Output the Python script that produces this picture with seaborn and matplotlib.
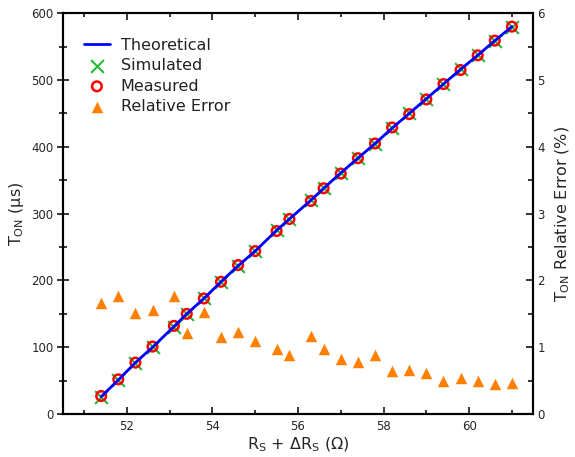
import matplotlib
matplotlib.use("Agg")
import matplotlib.pyplot as plt
import seaborn as sns
import pandas as pd
from matplotlib.ticker import MultipleLocator

# ---- data ----
resistance = [51.4, 51.8, 52.2, 52.6, 53.1, 53.4, 53.8, 54.2, 54.6, 55.0,
              55.5, 55.8, 56.3, 56.6, 57.0, 57.4, 57.8, 58.2, 58.6, 59.0,
              59.4, 59.8, 60.2, 60.6, 61.0]
theoretical = [26, 51, 77, 100, 131, 150, 173, 198, 222, 244,
               275, 292, 320, 338, 361, 383, 405, 428, 450, 472,
               494, 516, 537, 559, 580]
simulated = [26, 51, 77, 100, 131, 150, 173, 198, 222, 244,
             275, 292, 320, 338, 361, 383, 405, 428, 450, 472,
             494, 516, 537, 559, 580]
measured = [27, 52, 77, 101, 132, 150, 173, 198, 223, 244,
            274, 292, 319, 338, 360, 383, 405, 429, 449, 471,
            494, 515, 537, 559, 580]
rel_error = [1.66, 1.77, 1.51, 1.56, 1.77, 1.21, 1.53, 1.16, 1.23, 1.10,
             0.98, 0.89, 1.17, 0.98, 0.83, 0.78, 0.89, 0.64, 0.66, 0.62,
             0.49, 0.54, 0.49, 0.45, 0.46]

df = pd.DataFrame({"R": resistance, "Theo": theoretical, "Sim": simulated,
                   "Meas": measured, "Err": rel_error})

sns.set_style("ticks")
plt.rcParams["font.family"] = ["DejaVu Sans"]
plt.rcParams["mathtext.default"] = "regular"
plt.rcParams["text.color"] = "#222222"

fig = plt.figure(figsize=(5.75, 4.57), dpi=100)
ax = fig.add_axes([0.109, 0.094, 0.8185, 0.877])
ax2 = ax.twinx()

sns.lineplot(data=df, x="R", y="Theo", ax=ax, color="#0000FF", linewidth=2,
             label="Theoretical", zorder=3)
sns.scatterplot(data=df, x="R", y="Sim", ax=ax, marker="x", color="#22BB33",
                s=85, linewidth=1.5, label="Simulated", zorder=2)
sns.scatterplot(data=df, x="R", y="Meas", ax=ax, marker="o", facecolor="none",
                edgecolor="#FF0000", s=48, linewidth=1.8, label="Measured", zorder=2.5)
sns.scatterplot(data=df, x="R", y="Err", ax=ax2, marker="^", color="#FF8000",
                edgecolor="#FF8000", s=68, linewidth=0, label="Relative Error")

ax.set_xlim(50.5, 61.5)
ax.set_ylim(0, 600)
ax2.set_ylim(0, 6)

ax.xaxis.set_major_locator(MultipleLocator(2))
ax.xaxis.set_minor_locator(MultipleLocator(1))
ax.yaxis.set_major_locator(MultipleLocator(100))
ax.yaxis.set_minor_locator(MultipleLocator(50))
ax2.yaxis.set_major_locator(MultipleLocator(1))
ax2.yaxis.set_minor_locator(MultipleLocator(0.5))

for a in (ax, ax2):
    for sp in a.spines.values():
        sp.set_visible(True)
        sp.set_linewidth(1.5)
        sp.set_color("black")

ax.tick_params(axis="x", which="major", direction="in", length=5, width=1.3,
               top=True, labelsize=8.5, pad=4)
ax.tick_params(axis="x", which="minor", direction="in", length=3, width=1.3, top=True)
ax.tick_params(axis="y", which="major", direction="inout", length=9, width=1.3,
               labelsize=8.5, pad=2, right=False)
ax.tick_params(axis="y", which="minor", direction="inout", length=6, width=1.3, right=False)
ax2.tick_params(axis="y", which="major", direction="in", length=5, width=1.3,
                labelsize=8.5, pad=3)
ax2.tick_params(axis="y", which="minor", direction="in", length=3.5, width=1.3)

ax.set_xlabel(r"$R_S$ + $\Delta R_S$ ($\Omega$)", fontsize=11.5, labelpad=2)
ax.set_ylabel(r"$T_{ON}$ (µs)", fontsize=11.5, labelpad=4)
ax2.set_ylabel(r"$T_{ON}$ Relative Error (%)", fontsize=11.5, labelpad=6)

h1, l1 = ax.get_legend_handles_labels()
h2, l2 = ax2.get_legend_handles_labels()
if ax2.get_legend() is not None:
    ax2.get_legend().remove()
ax.legend(h1 + h2, l1 + l2, loc="upper left", bbox_to_anchor=(0.015, 0.975),
          frameon=False, fontsize=11.5, handlelength=1.6, labelspacing=0.34,
          handletextpad=0.7)

fig.savefig("out.png", dpi=100)
